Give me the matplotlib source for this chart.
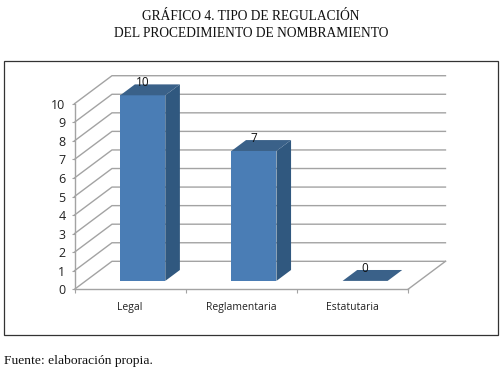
import matplotlib
matplotlib.use("Agg")
import matplotlib.pyplot as plt
from matplotlib.patches import Polygon, Rectangle

categories = ["Legal", "Reglamentaria", "Estatutaria"]
values = [10, 7, 0]
y_ticks = [0, 1, 2, 3, 4, 5, 6, 7, 8, 9, 10]

title_lines = ["GRÁFICO 4. TIPO DE REGULACIÓN", "DEL PROCEDIMIENTO DE NOMBRAMIENTO"]
source = "Fuente: elaboración propia."

# depth of the 3d box in data units
depth_x = 0.337
depth_y = 1.508
bar_width = 0.405
bar_front = 0.30
bar_back = 0.69

grid_col = "#a3a3a3"
front_col = "#4a7db5"
side_col = "#30587f"
top_col = "#3a6189"


def proj(x, y, d):
    return (x + depth_x * d, y + depth_y * d)


fig = plt.figure(figsize=(5.04, 3.72), dpi=100)
fig.patch.set_facecolor("white")

# outer frame
fig.add_artist(Rectangle((4 / 504, 1 - 335 / 372), 494 / 504, 274 / 372, transform=fig.transFigure,
                         fill=False, edgecolor="#333333", linewidth=0.9))

ax = fig.add_axes([74.5 / 504, 1 - 289.3 / 372, 333.5 / 504, 185.6 / 372])
ax.set_xlim(0, 3)
ax.set_ylim(0, 10)
ax.patch.set_visible(False)
for s in ["top", "right"]:
    ax.spines[s].set_visible(False)
for s in ["left", "bottom"]:
    ax.spines[s].set_color(grid_col)
    ax.spines[s].set_linewidth(1.0)

ax.set_yticks(y_ticks)
ax.set_xticks([0, 1, 2, 3])
ax.set_xticklabels([])
ax.set_xticks([0.5, 1.5, 2.5], categories, minor=True)
ax.tick_params(axis="y", length=2.5, color=grid_col, labelsize=9, labelcolor="#222222", pad=4)
ax.tick_params(axis="x", which="major", length=3, color=grid_col)
ax.tick_params(axis="x", which="minor", length=0, labelsize=7.5, labelcolor="#222222", pad=9.5)
for lab in ax.get_xticklabels(minor=True) + ax.get_yticklabels():
    lab.set_fontfamily("Open Sans")

# back wall and side wall grid lines
for t in y_ticks:
    p0 = proj(0, t, 0)
    p1 = proj(0, t, 1)
    p2 = proj(3, t, 1)
    ax.plot([p0[0], p1[0], p2[0]], [p0[1], p1[1], p2[1]], color=grid_col, lw=1.0, clip_on=False, zorder=1)

# right edge of the floor
p0 = proj(3, 0, 0)
p1 = proj(3, 0, 1)
ax.plot([p0[0], p1[0]], [p0[1], p1[1]], color=grid_col, lw=1.0, clip_on=False, zorder=1)

# bars
for i, v in enumerate(values):
    left = i + 0.5 - bar_width / 2 + 0.013
    right = left + bar_width
    a = proj(left, 0, bar_front)
    b = proj(right, 0, bar_front)
    c = proj(right, v, bar_front)
    d = proj(left, v, bar_front)
    e = proj(right, v, bar_back)
    f = proj(left, v, bar_back)
    g = proj(right, 0, bar_back)
    ax.add_patch(Polygon([a, b, c, d], facecolor=front_col, edgecolor="none", clip_on=False, zorder=3))
    ax.add_patch(Polygon([b, g, e, c], facecolor=side_col, edgecolor="none", clip_on=False, zorder=3))
    ax.add_patch(Polygon([d, c, e, f], facecolor=top_col, edgecolor="none", clip_on=False, zorder=3))
    # value label sits above the middle of the front face
    mid = proj(left + bar_width / 2, v, bar_front)
    ax.text(mid[0], mid[1] + 0.67, str(v), ha="center", va="center", fontsize=8.5, color="#111111",
            family="Open Sans", clip_on=False, zorder=4)

fig.text(251 / 504, 1 - 16 / 372, title_lines[0], ha="center", va="center", fontsize=9.75,
         family="Liberation Serif", color="#111111")
fig.text(251 / 504, 1 - 33.5 / 372, title_lines[1], ha="center", va="center", fontsize=9.75,
         family="Liberation Serif", color="#111111")
fig.text(4 / 504, 1 - 361 / 372, source, ha="left", va="center", fontsize=9.7,
         family="Liberation Serif", color="#111111")

fig.savefig("out.png", dpi=100)
